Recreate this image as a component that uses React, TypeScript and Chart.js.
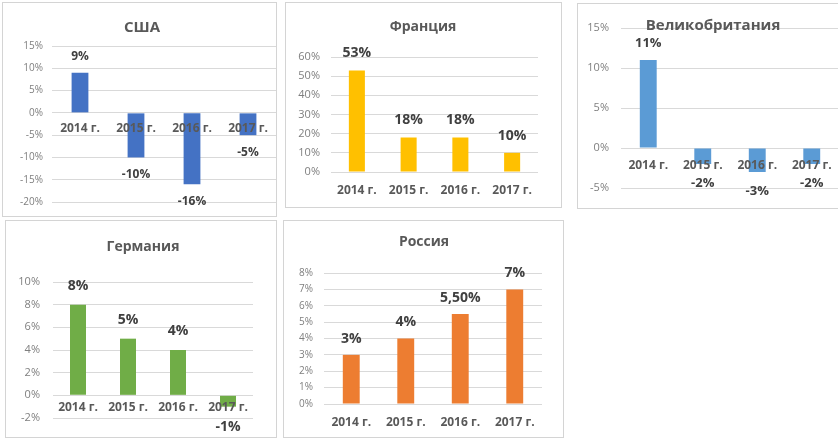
import React, { useEffect, useRef } from "react";
import { Chart, registerables } from "chart.js";

Chart.register(...registerables);

// ---------- data ----------
const years = ["2014 г.", "2015 г.", "2016 г.", "2017 г."];

const usaValues = [9, -10, -16, -5];
const franceValues = [53, 18, 18, 10];
const ukValues = [11, -2, -3, -2];
const germanyValues = [8, 5, 4, -1];
const russiaValues = [3, 4, 5.5, 7];

const usaTicks = [-20, -15, -10, -5, 0, 5, 10, 15];
const franceTicks = [0, 10, 20, 30, 40, 50, 60];
const ukTicks = [-5, 0, 5, 10, 15];
const germanyTicks = [-2, 0, 2, 4, 6, 8, 10];
const russiaTicks = [0, 1, 2, 3, 4, 5, 6, 7, 8];

// ---------- styling ----------
const FONT = "'Open Sans', 'Liberation Sans', sans-serif";

function fmtValue(v: number): string {
  if (Number.isInteger(v)) return `${v}%`;
  return v.toFixed(2).replace(".", ",") + "%";
}

type PanelCfg = {
  title: string;
  values: number[];
  ticks: number[];
  color: string;
  frame: { left: number; top: number; right: number; bottom: number };
  area: { left: number; top: number; right: number; bottom: number };
  yPad: number;
  xPad: number;
  yFont: number;
  titlePos: { x: number; y: number };
  titleSize: number;
  labelSize: number;
  labelOffset: number;
  labelOffsetNeg: number;
  barPct: number;
};

const valueLabels = {
  id: "valueLabels",
  afterDatasetsDraw(chart: any, _args: any, opts: any) {
    const ctx = chart.ctx;
    const meta = chart.getDatasetMeta(0);
    const data = chart.data.datasets[0].data as number[];
    ctx.save();
    ctx.font = `bold ${opts.size}px ${FONT}`;
    ctx.fillStyle = "#404040";
    ctx.textAlign = "center";
    ctx.textBaseline = "middle";
    meta.data.forEach((el: any, i: number) => {
      const v = data[i];
      const y = v >= 0 ? el.y - opts.offset : el.y + opts.offsetNeg;
      ctx.fillText(fmtValue(v), el.x, y);
    });
    ctx.restore();
  },
};

const panelTitle = {
  id: "panelTitle",
  afterDraw(chart: any, _args: any, opts: any) {
    const ctx = chart.ctx;
    ctx.save();
    ctx.font = `bold ${opts.size}px ${FONT}`;
    ctx.fillStyle = "#595959";
    ctx.textAlign = "center";
    ctx.textBaseline = "middle";
    ctx.fillText(opts.text, opts.x, opts.y);
    ctx.restore();
  },
};

const panels: PanelCfg[] = [
  {
    title: "США",
    values: usaValues,
    ticks: usaTicks,
    color: "#4472C4",
    frame: { left: 2, top: 2, right: 277, bottom: 217 },
    area: { left: 52, top: 46, right: 276, bottom: 208 },
    yPad: 9,
    xPad: 9,
    yFont: 10,
    titlePos: { x: 142, y: 28 },
    titleSize: 15,
    labelSize: 12,
    labelOffset: 16,
    labelOffsetNeg: 17,
    barPct: 0.3,
  },
  {
    title: "Франция",
    values: franceValues,
    ticks: franceTicks,
    color: "#FFC000",
    frame: { left: 285, top: 2, right: 562, bottom: 208 },
    area: { left: 331, top: 57, right: 538, bottom: 172 },
    yPad: 11,
    xPad: 11,
    yFont: 11,
    titlePos: { x: 423, y: 27 },
    titleSize: 14,
    labelSize: 14,
    labelOffset: 17,
    labelOffsetNeg: 17,
    barPct: 0.31,
  },
  {
    title: "Великобритания",
    values: ukValues,
    ticks: ukTicks,
    color: "#5B9BD5",
    frame: { left: 577, top: 3, right: 880, bottom: 209 },
    area: { left: 621, top: 28, right: 839, bottom: 188 },
    yPad: 12,
    xPad: 10,
    yFont: 11,
    titlePos: { x: 713, y: 26 },
    titleSize: 15,
    labelSize: 13,
    labelOffset: 17,
    labelOffsetNeg: 19,
    barPct: 0.31,
  },
  {
    title: "Германия",
    values: germanyValues,
    ticks: germanyTicks,
    color: "#70AD47",
    frame: { left: 5, top: 220, right: 277, bottom: 438 },
    area: { left: 53, top: 282, right: 253, bottom: 418 },
    yPad: 13,
    xPad: 5,
    yFont: 11,
    titlePos: { x: 143, y: 247 },
    titleSize: 14,
    labelSize: 14,
    labelOffset: 19,
    labelOffsetNeg: 20,
    barPct: 0.32,
  },
  {
    title: "Россия",
    values: russiaValues,
    ticks: russiaTicks,
    color: "#ED7D31",
    frame: { left: 283, top: 220, right: 564, bottom: 438 },
    area: { left: 324, top: 273, right: 542, bottom: 404 },
    yPad: 11,
    xPad: 11,
    yFont: 10,
    titlePos: { x: 424, y: 242 },
    titleSize: 14,
    labelSize: 14,
    labelOffset: 16,
    labelOffsetNeg: 16,
    barPct: 0.31,
  },
];

function Panel({ cfg }: { cfg: PanelCfg }) {
  const ref = useRef<HTMLCanvasElement | null>(null);
  const W = cfg.frame.right - cfg.frame.left;
  const H = cfg.frame.bottom - cfg.frame.top;
  const L = cfg.area.left - cfg.frame.left;
  const T = cfg.area.top - cfg.frame.top;
  const R = cfg.area.right - cfg.frame.left;
  const B = cfg.area.bottom - cfg.frame.top;

  useEffect(() => {
    if (!ref.current) return;
    const min = Math.min(...cfg.ticks);
    const max = Math.max(...cfg.ticks);
    const step = cfg.ticks[1] - cfg.ticks[0];
    const chart = new Chart(ref.current, {
      type: "bar",
      data: {
        labels: years,
        datasets: [
          {
            data: cfg.values,
            backgroundColor: cfg.color,
            borderWidth: 0,
            barPercentage: cfg.barPct,
            categoryPercentage: 1,
          },
        ],
      },
      options: {
        responsive: false,
        animation: false,
        devicePixelRatio: 1,
        layout: {
          padding: { left: 0, top: T, right: W - R, bottom: H - B },
        },
        plugins: {
          legend: { display: false },
          tooltip: { enabled: false },
          title: { display: false },
          valueLabels: {
            size: cfg.labelSize,
            offset: cfg.labelOffset,
            offsetNeg: cfg.labelOffsetNeg,
          },
          panelTitle: {
            text: cfg.title,
            size: cfg.titleSize,
            x: cfg.titlePos.x - cfg.frame.left,
            y: cfg.titlePos.y - cfg.frame.top,
          },
        } as any,
        scales: {
          x: {
            type: "category",
            position: { y: 0 } as any,
            offset: true,
            grid: { display: false, drawTicks: false },
            border: { display: false },
            ticks: {
              z: 1,
              padding: cfg.xPad,
              color: "#595959",
              font: { family: FONT, size: 12, weight: "bold" },
              maxRotation: 0,
              autoSkip: false,
            } as any,
          },
          y: {
            min,
            max,
            grace: 0,
            grid: { color: "#d9d9d9", lineWidth: 1, drawTicks: false },
            border: { display: false },
            ticks: {
              stepSize: step,
              padding: cfg.yPad,
              color: "#7f7f7f",
              font: { family: FONT, size: cfg.yFont },
              callback: (v: any) => `${v}%`,
            },
            afterFit: (s: any) => {
              s.width = L;
            },
          },
        },
      },
      plugins: [valueLabels as any, panelTitle as any],
    });
    return () => chart.destroy();
  }, []);

  return (
    <>
      <div
        style={{
          position: "absolute",
          left: cfg.frame.left,
          top: cfg.frame.top,
          width: W,
          height: H,
          boxSizing: "border-box",
          border: "1px solid #d4d4d4",
          background: "#fff",
        }}
      />
      <canvas
        ref={ref}
        width={W}
        height={H}
        style={{
          position: "absolute",
          left: cfg.frame.left,
          top: cfg.frame.top,
          width: W,
          height: H,
        }}
      />
    </>
  );
}

export default function App() {
  return (
    <div
      style={{
        position: "fixed",
        left: 0,
        top: 0,
        width: 838,
        height: 439,
        overflow: "hidden",
        background: "#fff",
      }}
    >
      {panels.map((p) => (
        <Panel key={p.title} cfg={p} />
      ))}
    </div>
  );
}
